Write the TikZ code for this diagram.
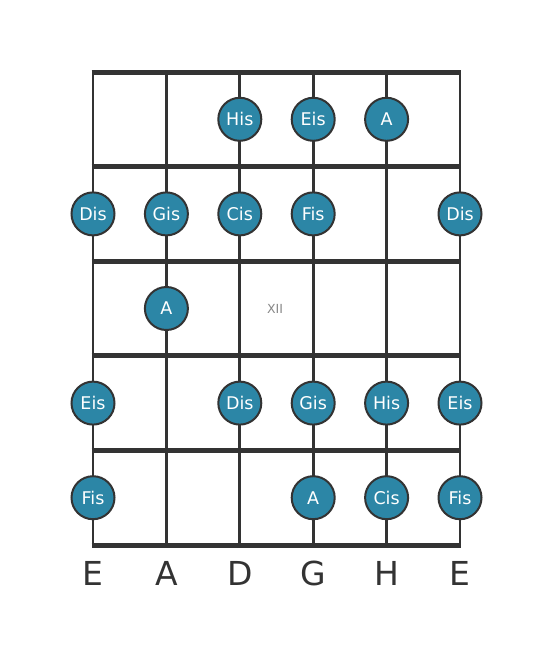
\documentclass[tikz,border=0pt]{standalone}
\usepackage{fontspec}
\setmainfont{DejaVu Sans}
\definecolor{linec}{HTML}{333333}
\definecolor{dotc}{HTML}{2C86A6}
\definecolor{xiic}{HTML}{888888}
\begin{document}
\begin{tikzpicture}[x=1pt,y=-1pt,
  fret/.style={draw=linec,line width=5pt},
  string/.style={draw=linec,line width=2.8pt},
  notedot/.style={circle,draw=linec,line width=2pt,fill=dotc,minimum size=43pt,inner sep=0pt,text=white,font=\fontsize{17.5}{17.5}\selectfont},
  strlabel/.style={text=linec,font=\fontsize{33}{33}\selectfont,anchor=center}]
\useasboundingbox (0,0) rectangle (553,656);
\fill[white] (0,0) rectangle (553,656);
% strings
\foreach \i/\x in {1/93,2/166.4,3/239.8,4/313.2,5/386.6,6/460}{
  \coordinate (s\i t) at (\x,72);
  \coordinate (s\i b) at (\x,545);
  \draw[string] (s\i t) -- (s\i b);
}
% frets
\foreach \j/\y in {0/72,1/166.6,2/261.2,3/355.8,4/450.4,5/545}{
  \coordinate (f\j l) at (91.6,\y);
  \coordinate (f\j r) at (461.4,\y);
  \draw[fret] (f\j l) -- (f\j r);
}
\node[text=xiic,font=\fontsize{12.5}{12.5}\selectfont] (xii) at (275,309) {XII};
% row 1
\node[notedot] (r1d) at (239.8,119.3) {His};
\node[notedot] (r1g) at (313.2,119.3) {Eis};
\node[notedot] (r1h) at (386.6,119.3) {A};
% row 2
\node[notedot] (r2e) at (93,213.9) {Dis};
\node[notedot] (r2a) at (166.4,213.9) {Gis};
\node[notedot] (r2d) at (239.8,213.9) {Cis};
\node[notedot] (r2g) at (313.2,213.9) {Fis};
\node[notedot] (r2ee) at (460,213.9) {Dis};
% row 3
\node[notedot] (r3a) at (166.4,308.5) {A};
% row 4
\node[notedot] (r4e) at (93,403.1) {Eis};
\node[notedot] (r4d) at (239.8,403.1) {Dis};
\node[notedot] (r4g) at (313.2,403.1) {Gis};
\node[notedot] (r4h) at (386.6,403.1) {His};
\node[notedot] (r4ee) at (460,403.1) {Eis};
% row 5
\node[notedot] (r5e) at (93,497.7) {Fis};
\node[notedot] (r5g) at (313.2,497.7) {A};
\node[notedot] (r5h) at (386.6,497.7) {Cis};
\node[notedot] (r5ee) at (460,497.7) {Fis};
% string names
\node[strlabel] (n1) at (93,573) {E};
\node[strlabel] (n2) at (166.4,573) {A};
\node[strlabel] (n3) at (239.8,573) {D};
\node[strlabel] (n4) at (313.2,573) {G};
\node[strlabel] (n5) at (386.6,573) {H};
\node[strlabel] (n6) at (460,573) {E};
\end{tikzpicture}
\end{document}
